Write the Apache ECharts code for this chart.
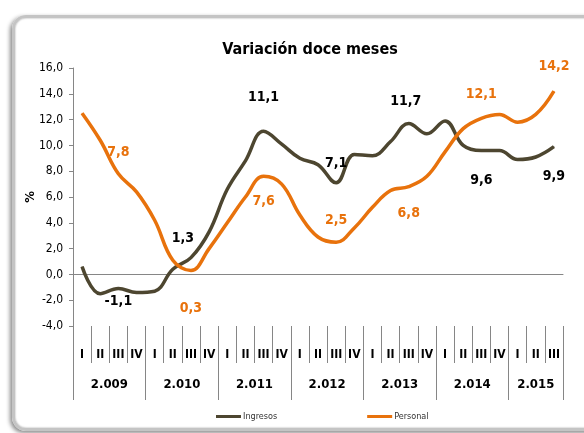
<!DOCTYPE html>
<html>
<head>
<meta charset="utf-8">
<script src="https://cdn.jsdelivr.net/npm/echarts@6/dist/echarts.min.js"></script>
<style>
  body { margin: 0; background: #fff; }
  #frame {
    position: absolute; left: 12px; top: 15px; width: 590px; height: 410px;
    border: 3px solid #c4c4c4; border-radius: 14px;
    box-shadow: -2px 2px 4px #8a8a8a, inset 0 0 2px #999;
  }
  #main { position: absolute; left: 0; top: 0; width: 584px; height: 433px; }
</style>
</head>
<body>
<div id="frame"></div>
<div id="main"></div>
<script>
// trimestres y años
const quarters = ['I','II','III','IV','I','II','III','IV','I','II','III','IV','I','II','III','IV',
    'I','II','III','IV','I','II','III','IV','I','II','III'];
const years = ['2.009', '2.010', '2.011', '2.012', '2.013', '2.014', '2.015'];
const yearStarts = [0, 4, 8, 12, 16, 20, 24, 27];

const ingresos = [0.6, -1.5, -1.1, -1.4, -1.3, 0.4, 1.3, 3.3, 6.6, 8.8, 11.1, 10.1,
    9.0, 8.5, 7.1, 9.3, 9.2, 10.3, 11.7, 10.9, 11.9, 10.0, 9.6, 9.6, 8.9, 9.1, 9.9];
const personal = [12.5, 10.4, 7.8, 6.4, 4.2, 1.1, 0.3, 2.0, 4.0, 6.0, 7.6, 7.0,
    4.6, 2.9, 2.5, 3.6, 5.2, 6.5, 6.8, 7.6, 9.5, 11.3, 12.1, 12.4, 11.8, 12.4, 14.2];

const font = "'Liberation Sans Narrow', 'DejaVu Sans Condensed', sans-serif";

// donde va cada etiqueta: indice -> [posicion, distancia, dx]
const ingresosLabels = {2: ['bottom', 5, 0], 6: ['top', 12, -8], 10: ['top', 26, 0], 14: ['top', 12, 0],
    18: ['top', 15, -3], 22: ['bottom', 22, 0], 26: ['bottom', 22, 0]};
const personalLabels = {2: ['top', 14, 0], 6: ['bottom', 30, 0], 10: ['bottom', 17, 0], 14: ['top', 14, 0],
    18: ['bottom', 19, 0], 22: ['top', 16, 0], 26: ['top', 17, 0]};

function fmt(v) {
    return v.toFixed(1).replace('.', ',');
}

function buildData(values, labels, color) {
    return values.map((v, i) => {
        const l = labels[i];
        if (!l) return v;
        return {
            value: v,
            label: {
                show: true, position: l[0], distance: l[1], offset: [l[2], 0],
                color: color, fontFamily: font, fontWeight: 'bold', fontSize: 14
            }
        };
    });
}

const myChart = echarts.init(document.getElementById('main'));

const option = {
    title: {
        text: 'Variación doce meses',
        left: 305, top: 37, textAlign: 'center',
        textStyle: { fontFamily: font, fontWeight: 'bold', fontSize: 16, color: '#000' }
    },
    legend: {
        left: 211, top: 407, itemGap: 90, itemWidth: 25, itemHeight: 3,
        icon: 'rect',
        textStyle: { fontFamily: font, fontSize: 9, color: '#333', padding: [0, 0, 0, -3] },
        data: ['Ingresos', 'Personal']
    },
    grid: { left: 73, right: 21, top: 68, bottom: 107 },
    xAxis: [
        {
            type: 'category', data: quarters,
            axisLine: { onZero: true, lineStyle: { color: '#868686' } },
            axisTick: { length: 5, interval: 0, lineStyle: { color: '#868686' } },
            axisLabel: { show: false }
        },
        {
            type: 'category', data: quarters, position: 'bottom',
            axisLine: { show: false, onZero: false },
            axisTick: { show: true, length: 37, interval: 0, lineStyle: { color: '#868686' } },
            axisLabel: { interval: 0, margin: 23, fontFamily: font, fontWeight: 'bold', fontSize: 12, color: '#000' }
        },
        {
            type: 'value', min: 0, max: 27, position: 'bottom',
            axisLine: { show: false, onZero: false },
            splitLine: { show: false },
            axisTick: { show: true, length: 74, customValues: yearStarts, lineStyle: { color: '#868686' } },
            axisLabel: {
                margin: 52, fontFamily: font, fontWeight: 'bold', fontSize: 13, color: '#000',
                customValues: years.map((y, i) => (yearStarts[i] + yearStarts[i + 1]) / 2),
                formatter: v => years[yearStarts.findIndex((s, i) => v > s && v < yearStarts[i + 1])]
            }
        }
    ],
    yAxis: {
        type: 'value', min: -4, max: 16, interval: 2,
        name: '%', nameLocation: 'middle', nameGap: 36, nameRotate: 90, nameMoveOverlap: false,
        nameTextStyle: { fontFamily: font, fontWeight: 'bold', fontSize: 13, color: '#000' },
        axisLine: { show: true, lineStyle: { color: '#868686' } },
        axisTick: { show: true, length: 4, lineStyle: { color: '#868686' } },
        splitLine: { show: false },
        axisLabel: { margin: 10, fontFamily: font, fontSize: 12, color: '#000', formatter: v => fmt(v) }
    },
    series: [
        {
            name: 'Ingresos', type: 'line', smooth: 0.4,
            symbol: 'circle', symbolSize: 1, showSymbol: true, showAllSymbol: true,
            color: '#4d4630',
            lineStyle: { width: 3.5, color: '#4d4630' },
            label: { formatter: p => fmt(p.value) },
            data: buildData(ingresos, ingresosLabels, '#000')
        },
        {
            name: 'Personal', type: 'line', smooth: 0.4,
            symbol: 'circle', symbolSize: 1, showSymbol: true, showAllSymbol: true,
            color: '#e8720c',
            lineStyle: { width: 3.5, color: '#e8720c' },
            label: { formatter: p => fmt(p.value) },
            data: buildData(personal, personalLabels, '#e8720c')
        }
    ]
};

myChart.setOption(option);
</script>
</body>
</html>
